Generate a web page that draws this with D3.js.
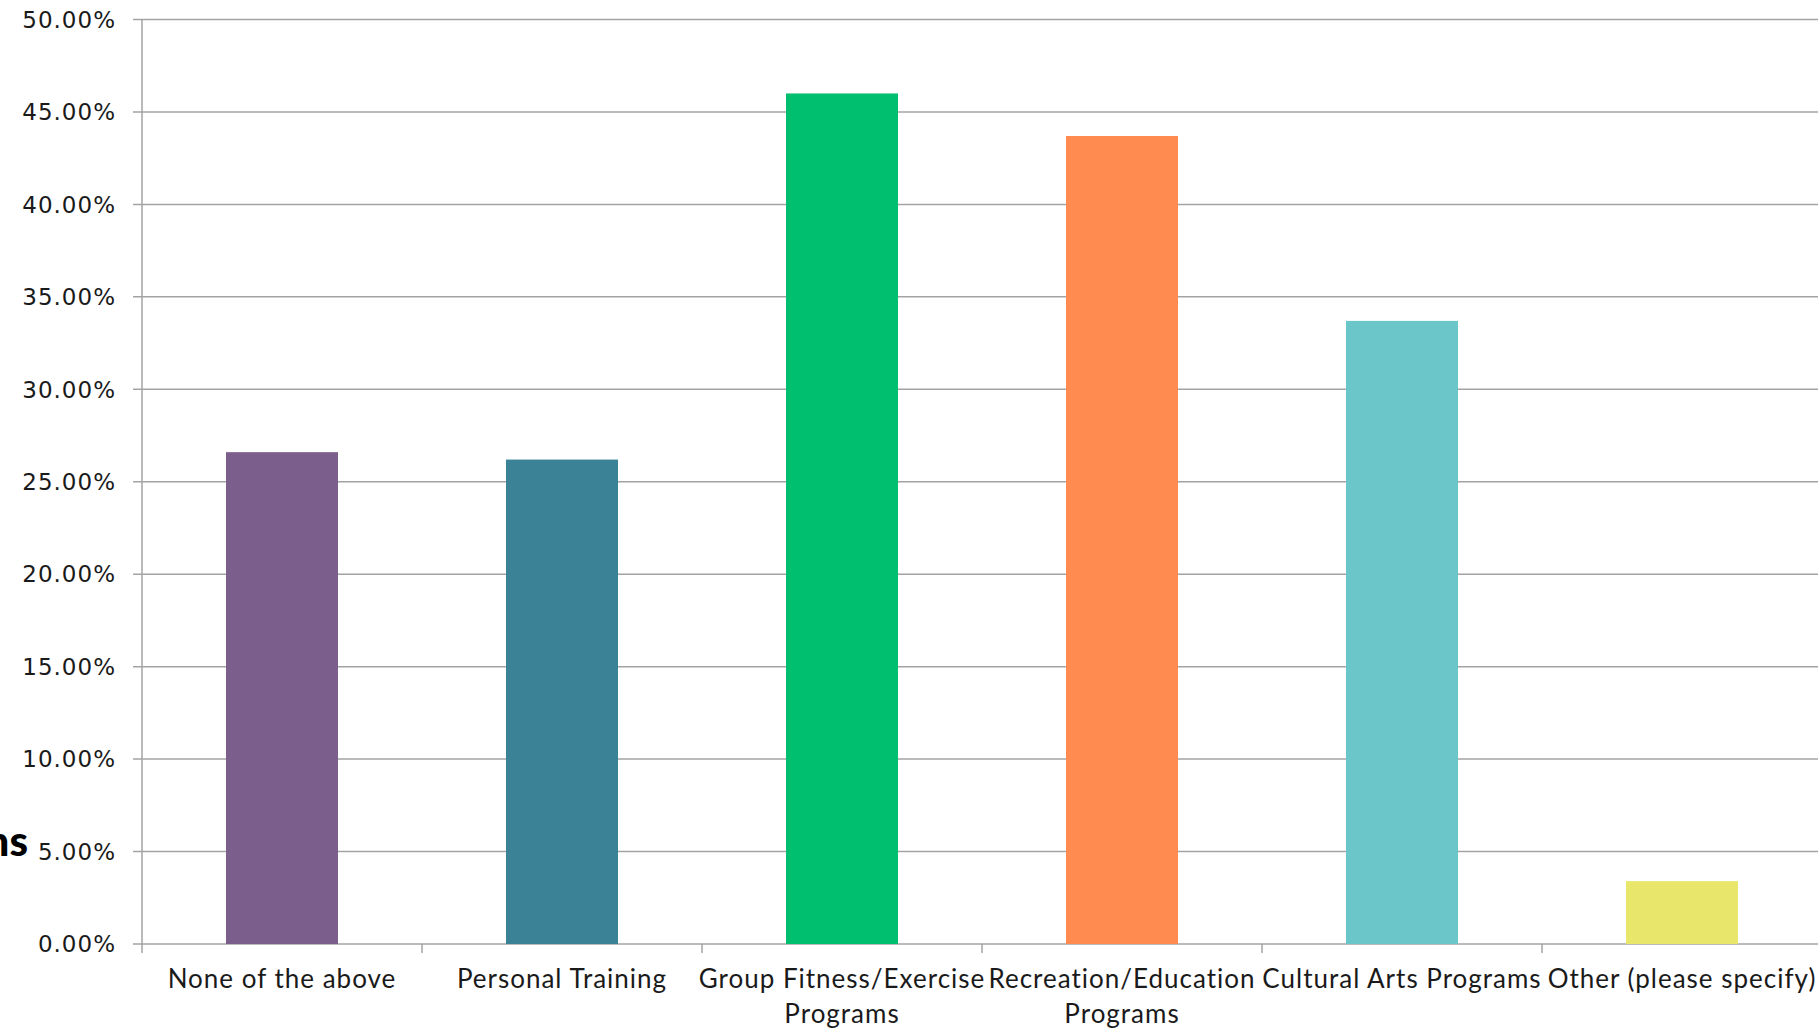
<!DOCTYPE html>
<html>
<head>
<meta charset="utf-8">
<script src="https://cdn.jsdelivr.net/npm/d3@7"></script>
<style>
html,body{margin:0;padding:0;background:#fff;overflow:hidden;}
svg{display:block;}
text{font-family:"Lato","Open Sans",sans-serif;fill:#1a1a1a;}
</style>
</head>
<body>
<svg id="chart" width="1818" height="1029"></svg>
<script>
const categories = ["None of the above","Personal Training","Group Fitness/Exercise Programs","Recreation/Education Programs","Cultural Arts Programs","Other (please specify)"];
const values = [26.6, 26.2, 46.0, 43.7, 33.7, 3.4];
const colors = ["#7b5e8c","#3b8297","#00bf6f","#ff8b50","#6bc6ca","#e8e76c"];
const yTicks = [0,5,10,15,20,25,30,35,40,45,50];
const titleFragment = "ns";

const svg = d3.select("#chart");
const plotLeft = 142, plotRight = 1822, plotTop = 19.5, plotBottom = 944;

const x = d3.scaleBand().domain(categories).range([plotLeft, plotRight]).paddingInner(0.6).paddingOuter(0.3);
const y = d3.scaleLinear().domain([0, 50]).range([plotBottom, plotTop]);

// gridlines
svg.append("g").selectAll("line").data(yTicks).join("line")
  .attr("x1", plotLeft - 9).attr("x2", 1818)
  .attr("y1", d => y(d)).attr("y2", d => y(d))
  .attr("stroke", "#a3a3a3").attr("stroke-width", 1.5);

// y axis labels
svg.append("g").selectAll("text").data(yTicks).join("text")
  .attr("x", 116).attr("y", d => y(d)).attr("dy", "0.36em")
  .attr("text-anchor", "end")
  .style("font-family", "'DejaVu Sans', sans-serif")
  .style("font-size", "23px").style("letter-spacing", "1px")
  .text(d => d.toFixed(2) + "%");

// bars
svg.append("g").selectAll("rect").data(values).join("rect")
  .attr("x", (d,i) => x(categories[i]))
  .attr("width", x.bandwidth())
  .attr("y", d => y(d))
  .attr("height", d => y(0) - y(d))
  .attr("fill", (d,i) => colors[i]);

// y axis line
svg.append("line").attr("x1", plotLeft).attr("x2", plotLeft).attr("y1", plotTop).attr("y2", plotBottom + 9)
  .attr("stroke", "#a3a3a3").attr("stroke-width", 1.5);

// category boundary ticks
const step = x.step();
const bounds = d3.range(1, categories.length).map(i => plotLeft + i * step);
svg.append("g").selectAll("line").data(bounds).join("line")
  .attr("x1", d => d).attr("x2", d => d).attr("y1", plotBottom).attr("y2", plotBottom + 9)
  .attr("stroke", "#a3a3a3").attr("stroke-width", 1.5);

// category labels with wrap
const maxW = 300;
categories.forEach((c, i) => {
  const cx = x(c) + x.bandwidth() / 2;
  const t = svg.append("text").attr("x", cx).attr("y", 988)
    .attr("text-anchor", "middle").style("font-size", "26px").style("letter-spacing", "1px");
  const words = c.split(" ");
  let line = [], lines = [];
  const tmp = t.append("tspan");
  words.forEach(w => {
    const test = line.concat([w]).join(" ");
    tmp.text(test);
    if (tmp.node().getComputedTextLength() > maxW && line.length) {
      lines.push(line.join(" "));
      line = [w];
    } else line.push(w);
  });
  lines.push(line.join(" "));
  tmp.remove();
  lines.forEach((l, k) => {
    t.append("tspan").attr("x", cx).attr("dy", k === 0 ? 0 : 34.5).text(l);
  });
});

// clipped title fragment
svg.append("text").attr("x", 28).attr("y", 856).attr("text-anchor", "end")
  .style("font-size", "42px").style("font-weight", "900").style("fill", "#000")
  .text(titleFragment);
</script>
</body>
</html>
